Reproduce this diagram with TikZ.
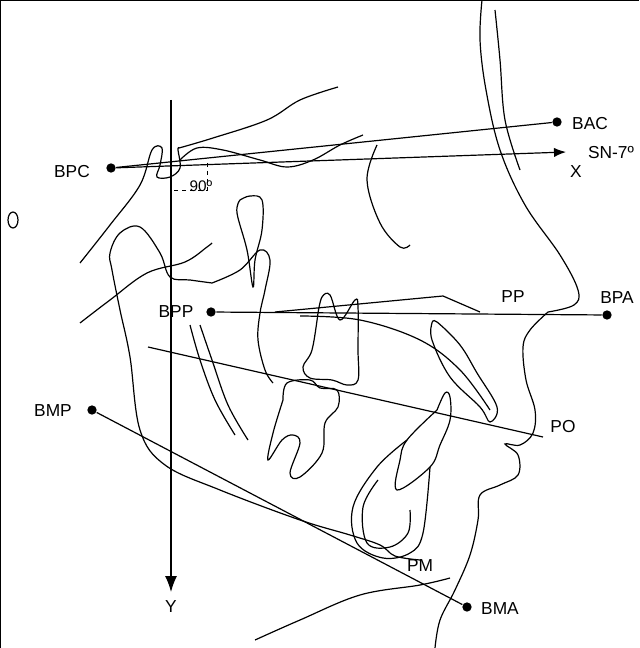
\documentclass[tikz,border=0pt]{standalone}
\usepackage{fontspec}
\setmainfont{Liberation Sans}
\usetikzlibrary{arrows.meta}
\begin{document}
\begin{tikzpicture}[x=0.75pt,y=-0.75pt,line width=0.9pt,
  lbl/.style={font=\fontsize{13}{15}\selectfont,inner sep=1pt},
  pt/.style={circle,fill=black,inner sep=0pt,minimum size=7pt},
  tr/.style={line width=0.9pt,smooth,tension=0.6}]
\useasboundingbox (0,0) rectangle (639,648);
\draw[line width=1pt] (0,648) -- (0,0) -- (639,0);
\draw (13,220) ellipse (5 and 8);
% points
\node[pt] (BPC) at (111,168) {};
\node[pt] (BAC) at (557,122) {};
\node[pt] (BPP) at (211,312) {};
\node[pt] (BPA) at (607,315) {};
\node[pt] (BMP) at (92,410) {};
\node[pt] (BMA) at (467,607) {};
\coordinate (Xend) at (566,152);
\coordinate (Ytop) at (171,100);
\coordinate (Yend) at (171,592);
\coordinate (POa) at (148,347);
\coordinate (POb) at (543,437);
\node[lbl] at (72,172) {BPC};
\node[lbl] at (590,124) {BAC};
\node[lbl] at (611,153) {SN-7º};
\node[lbl] at (576,172) {X};
\node[lbl] at (176,312) {BPP};
\node[lbl] at (617,298) {BPA};
\node[lbl] at (513,297) {PP};
\node[lbl] at (563,427) {PO};
\node[lbl] at (53,411) {BMP};
\node[lbl] at (500,609) {BMA};
\node[lbl] at (420,566) {PM};
\node[lbl] at (171,607) {Y};
\node[lbl,font=\fontsize{11.5}{13}\selectfont] at (201,186) {90º};
% lines
\draw (BPC) -- (BAC);
\draw[-{Latex[length=9pt,width=7pt]}] (BPC) -- (Xend);
\draw[-{Latex[length=12pt,width=9pt]}] (Ytop) -- (Yend);
\draw (BPP) -- (BPA);
\draw (POa) -- (POb);
\draw (BMP) -- (BMA);
\draw[dashed,line width=0.6pt] (207,163) -- (207,190) -- (171,190);
% soft tissue profile
\draw[tr] plot coordinates {(482,0) (480,40) (486,90) (500,150) (525,205) (560,255) (578,290) (574,305) (548,312)};
\draw[tr] plot coordinates {(495,10) (500,60) (505,120) (520,170)};
\draw[tr] plot coordinates {(548,312) (530,330) (523,347) (526,380) (535,410) (533,433) (520,445) (505,444) (518,455) (518,475) (500,485) (480,495) (478,520) (470,555) (455,590) (440,620) (435,648)};
\draw[tr] plot coordinates {(255,640) (300,620) (360,595) (420,585) (450,578)};
% cranial base
\draw[tr] plot coordinates {(80,263) (110,225) (140,185) (152,150) (162,148) (160,165) (157,177) (170,177) (180,168) (178,150) (179,148)};
\draw[tr] plot coordinates {(179,148) (213,138) (267,120) (300,100) (338,87)};
\draw[tr] plot coordinates {(180,160) (197,148) (223,150) (260,160) (287,167) (313,160) (340,145) (363,135)};
\draw[tr] plot coordinates {(377,145) (367,180) (380,223) (400,247) (410,245)};
\draw[tr] plot coordinates {(240,200) (250,196) (262,200) (262,230) (255,260) (253,287) (247,250) (237,213) (240,200)};
\draw[tr] plot coordinates {(80,323) (110,300) (147,273) (185,262) (207,247) (212,243)};
% ramus & mandible
\draw[tr] plot coordinates {(212,283) (190,280) (170,277) (160,253) (140,227) (120,233) (110,253) (112,270) (120,310) (130,357) (140,430) (165,465) (220,490) (300,520) (350,535) (380,545) (395,556) (420,560)};
\draw[tr] plot coordinates {(212,283) (240,270) (260,250) (270,260) (265,290) (260,313) (258,340) (265,370) (273,383)};
\draw[tr] plot coordinates {(190,325) (200,360) (215,400) (235,435)};
\draw[tr] plot coordinates {(200,325) (212,360) (228,405) (248,440)};
% palate
\draw (275,312) -- (443,296) -- (480,312);
\draw[tr] plot coordinates {(300,316) (360,320) (420,340) (460,370) (490,410)};
% upper molar
\draw[tr] plot coordinates {(318,313) (322,297) (330,295) (340,320) (355,300) (358,307) (358,350) (358,380) (347,385) (332,380) (310,378) (303,367) (312,350) (318,313)};
% lower molar
\draw[tr] plot coordinates {(283,400) (287,383) (310,380) (320,388) (337,390) (338,407) (325,423) (322,453) (300,477) (290,473) (300,443) (293,435) (282,440) (268,460) (273,433) (283,400)};
% upper incisor
\draw[tr] plot coordinates {(432,323) (437,322) (460,345) (477,373) (497,407) (490,422) (480,407) (450,377) (432,340) (432,323)};
% lower incisor
\draw[tr] plot coordinates {(437,410) (445,393) (450,397) (450,420) (440,445) (430,467) (397,490) (400,460) (407,440) (437,410)};
\draw[tr] plot coordinates {(407,440) (377,467) (353,507) (357,543) (383,558) (410,553) (423,533) (430,467)};
\draw[tr] plot coordinates {(378,480) (363,507) (367,543) (390,547) (408,533) (410,510)};
\end{tikzpicture}
\end{document}
